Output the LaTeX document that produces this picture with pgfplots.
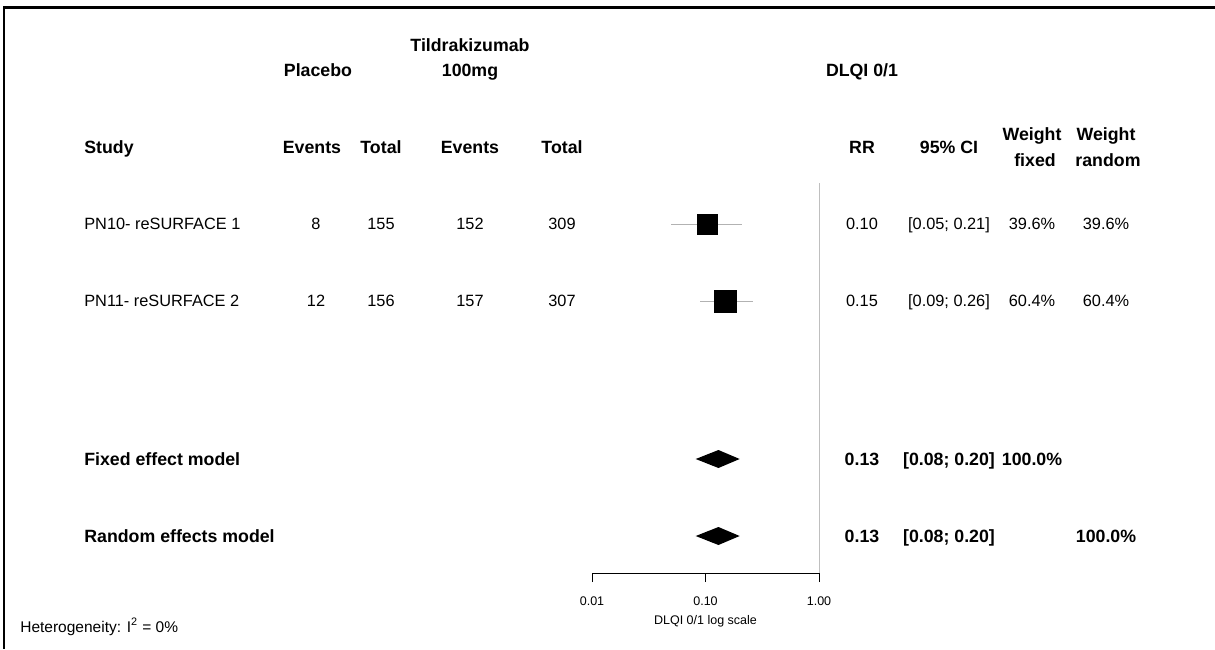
\documentclass[border=0pt]{standalone}
\usepackage{pgfplots}
\pgfplotsset{compat=1.18}
\usepackage{fontspec}
\setmainfont{Liberation Sans}
\begin{document}
\begin{tikzpicture}
\begin{scope}[x=0.6pt,y=-0.6pt]
\path[use as bounding box] (0,0) rectangle (1215,649);
% frame
\draw[line width=1.8pt,black] (3,7.5) -- (1215,7.5);
\draw[line width=0.9pt,black] (4,7) -- (4,649);
\tikzset{t/.style={font=\fontsize{9.8pt}{11pt}\selectfont,inner sep=0pt,anchor=base,yshift=-3.5pt},
         tb/.style={inner sep=0pt,anchor=base,yshift=-3.85pt,font=\fontsize{10.65pt}{12pt}\selectfont\bfseries},
         tl/.style={t,anchor=base west},
         tbl/.style={tb,anchor=base west}}
% headers
\node[tb] at (470,45) {Tildrakizumab};
\node[tb] at (470,70) {100mg};
\node[tb] at (318,70) {Placebo};
\node[tb] at (862,70) {DLQI 0/1};
\node[tbl] at (84,147) {Study};
\node[tb] at (312,147) {Events};
\node[tb] at (381,147) {Total};
\node[tb] at (470,147) {Events};
\node[tb] at (562,147) {Total};
\node[tb] at (862,147) {RR};
\node[tb] at (949,147) {95\% CI};
\node[tb] at (1032,134) {Weight};
\node[tb] at (1035,160) {fixed};
\node[tb] at (1106,134) {Weight};
\node[tb] at (1108,160) {random};
% rows
\node[tl] at (84,224) {PN10- reSURFACE 1};
\node[t] at (316,224) {8};
\node[t] at (381,224) {155};
\node[t] at (470,224) {152};
\node[t] at (562,224) {309};
\node[t] at (862,224) {0.10};
\node[t] at (949,224) {[0.05; 0.21]};
\node[t] at (1032,224) {39.6\%};
\node[t] at (1106,224) {39.6\%};
\node[tl] at (84,301) {PN11- reSURFACE 2};
\node[t] at (316,301) {12};
\node[t] at (381,301) {156};
\node[t] at (470,301) {157};
\node[t] at (562,301) {307};
\node[t] at (862,301) {0.15};
\node[t] at (949,301) {[0.09; 0.26]};
\node[t] at (1032,301) {60.4\%};
\node[t] at (1106,301) {60.4\%};
\node[tbl] at (84,459) {Fixed effect model};
\node[tb] at (862,459) {0.13};
\node[tb] at (949,459) {[0.08; 0.20]};
\node[tb] at (1032,459) {100.0\%};
\node[tbl] at (84,536) {Random effects model};
\node[tb] at (862,536) {0.13};
\node[tb] at (949,536) {[0.08; 0.20]};
\node[tb] at (1106,536) {100.0\%};
\node[inner sep=0pt,anchor=base west,yshift=-3.2pt,font=\fontsize{9.3pt}{10pt}\selectfont] at (20,627) {Heterogeneity: I\textsuperscript{2} = 0\%};
\end{scope}
% forest axis
\begin{axis}[at={(355.2pt,-343.8pt)},anchor=south west,
  scale only axis,width=136.2pt,height=235.8pt,
  xmode=log,xmin=0.01,xmax=1,ymin=-573,ymax=-180,
  axis x line=bottom,axis y line=none,
  xtick={0.01,0.1,1},xticklabels={0.01,0.10,1.00},
  xminorticks=false,
  tick align=outside,major tick length=5.4pt,
  axis line style={-,line width=0.6pt},
  tick style={line width=0.6pt,black},
  xticklabel style={font=\fontsize{7.5pt}{8pt}\selectfont,anchor=base,inner sep=0pt,yshift=-14.1pt},
  xlabel={DLQI 0/1 log scale},
  xlabel style={font=\fontsize{7.5pt}{8pt}\selectfont,at={(axis description cs:0.5,0)},anchor=base,inner sep=0pt,yshift=-30.6pt},
  clip=false]
\addplot[gray!50,line width=0.6pt] coordinates {(1,-573) (1,-183)};
\addplot[gray!60,line width=0.6pt] coordinates {(0.05,-224) (0.21,-224)};
\addplot[gray!60,line width=0.6pt] coordinates {(0.09,-301) (0.26,-301)};
\addplot[only marks,mark=square*,mark size=6pt,black] coordinates {(0.104,-224)};
\addplot[only marks,mark=square*,mark size=6.5pt,black] coordinates {(0.15,-301)};
\addplot[fill=black,draw=none] coordinates {(0.082,-459) (0.13,-450) (0.20,-459) (0.13,-468) (0.082,-459)};
\addplot[fill=black,draw=none] coordinates {(0.082,-536) (0.13,-527) (0.20,-536) (0.13,-545) (0.082,-536)};
\end{axis}
\end{tikzpicture}
\end{document}
